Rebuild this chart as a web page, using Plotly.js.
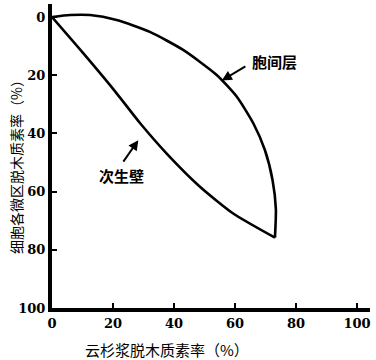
<!DOCTYPE html>
<html>
<head>
<meta charset="utf-8">
<script src="https://cdn.plot.ly/plotly-3.0.1.min.js"></script>
<style>
  html, body { margin: 0; padding: 0; background: #fff; }
  #chart { width: 376px; height: 360px; }
</style>
</head>
<body>
<div id="chart"></div>
<script>
// 胞间层 (middle lamella) curve
const mlX = [0, 5.9, 12.5, 21.2, 32.1, 43.0, 54.0, 60.6, 66.0, 69.8, 72.3, 73.4, 73.1];
const mlY = [0, -0.7, -0.7, 1.0, 5.1, 11.3, 19.9, 27.4, 36.5, 45.7, 56.0, 66.0, 75.8];
// 次生壁 (secondary wall) curve
const swX = [0, 10.3, 21.2, 28.9, 37.6, 48.5, 59.4, 73.1];
const swY = [0, 12.5, 26.2, 36.5, 46.9, 58.3, 67.5, 75.8];

const tickVals = [0, 20, 40, 60, 80, 100];
const tickText = ['0', '20', '40', '60', '80', '100'];

const labelML = '胞间层';
const labelSW = '次生壁';
const xTitle = '云杉浆脱木质素率（%）';
const yTitle = '细胞各微区脱木质素率（%）';

const cjk = '"Noto Sans CJK SC", "Noto Sans", sans-serif';

const traces = [
  {x: mlX, y: mlY, mode: 'lines', name: labelML,
   line: {color: '#000', width: 2.6, shape: 'spline', smoothing: 0.6}},
  {x: swX, y: swY, mode: 'lines', name: labelSW,
   line: {color: '#000', width: 2.6, shape: 'spline', smoothing: 0.6}}
];

const plotL = 52, plotR = 6, plotT = 4, plotB = 52;
const plotW = 376 - plotL - plotR, plotH = 360 - plotT - plotB;
const px2paperX = p => (p - plotL) / plotW;
const py2paperY = p => (360 - plotB - p) / plotH;

const layout = {
  width: 376, height: 360,
  margin: {l: plotL, r: plotR, t: plotT, b: plotB},
  paper_bgcolor: '#fff', plot_bgcolor: '#fff',
  showlegend: false,
  xaxis: {
    range: [0, 104.26], tickvals: tickVals, ticktext: tickText,
    showgrid: false, zeroline: false,
    showline: true, linewidth: 4, linecolor: '#000',
    ticks: 'inside', ticklen: 5, tickwidth: 2, tickcolor: '#000',
    tickfont: {family: '"DejaVu Serif", serif', size: 13, color: '#000', weight: 'bold'}
  },
  yaxis: {
    range: [100, -4.5], tickvals: tickVals, ticktext: tickText,
    showgrid: false, zeroline: false,
    showline: true, linewidth: 4, linecolor: '#000',
    ticks: 'inside', ticklen: 5, tickwidth: 2, tickcolor: '#000',
    tickfont: {family: '"DejaVu Serif", serif', size: 13, color: '#000', weight: 'bold'}
  },
  annotations: [
    {x: 73.1, y: 15.1, xref: 'x', yref: 'y', text: labelML, showarrow: false,
     font: {family: cjk, size: 15, color: '#000', weight: 'bold'}},
    {x: 55.7, y: 21.8, xref: 'x', yref: 'y', text: '', showarrow: true,
     ax: 25, ay: -15, arrowhead: 2, arrowsize: 1, arrowwidth: 2, arrowcolor: '#000', standoff: 0},
    {x: 22.8, y: 54.6, xref: 'x', yref: 'y', text: labelSW, showarrow: false,
     font: {family: cjk, size: 15, color: '#000', weight: 'bold'}},
    {x: 28.3, y: 42.3, xref: 'x', yref: 'y', text: '', showarrow: true,
     ax: -16, ay: 23, arrowhead: 2, arrowsize: 1, arrowwidth: 2, arrowcolor: '#000', standoff: 0},
    {x: px2paperX(167), y: py2paperY(349), xref: 'paper', yref: 'paper',
     xanchor: 'center', yanchor: 'middle', text: xTitle, showarrow: false,
     font: {family: cjk, size: 15, color: '#000'}},
    {x: px2paperX(16), y: py2paperY(164), xref: 'paper', yref: 'paper',
     xanchor: 'center', yanchor: 'middle', text: yTitle, showarrow: false, textangle: -90,
     font: {family: cjk, size: 14, color: '#000'}}
  ]
};

Plotly.newPlot('chart', traces, layout, {staticPlot: true, displayModeBar: false});
</script>
</body>
</html>
